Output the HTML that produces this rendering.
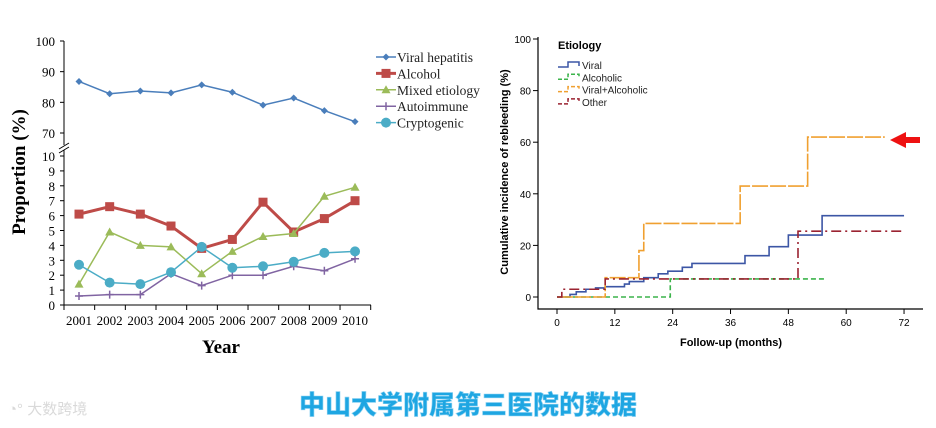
<!DOCTYPE html>
<html><head><meta charset="utf-8"><style>
html,body{margin:0;padding:0;background:#fff;width:936px;height:428px;overflow:hidden}
svg{display:block}
</style></head><body>
<svg id="c" width="936" height="428" xmlns="http://www.w3.org/2000/svg">
<text x="468" y="414" text-anchor="middle" font-family="'Liberation Sans','Noto Sans CJK SC',sans-serif" font-weight="900" font-size="26" fill="#1ea6e2" stroke="#8fd3f2" stroke-width="0.6">中山大学附属第三医院的数据</text>
<g opacity="0.55">
<text x="8" y="414" font-family="'Liberation Sans','Noto Sans CJK SC',sans-serif" font-size="15" fill="#bbb">◔° 大数跨境</text>
</g>
</svg>
<script>
const NS='http://www.w3.org/2000/svg';
const svg=document.getElementById('c');
function el(t,a,p){const e=document.createElementNS(NS,t);for(const k in a)e.setAttribute(k,a[k]);(p||svg).appendChild(e);return e;}
// ---- Left chart data ----
const years=[2001,2002,2003,2004,2005,2006,2007,2008,2009,2010];
const viralHep=[86.8,82.8,83.7,83.1,85.7,83.3,79.1,81.4,77.3,73.7];
const alcohol=[6.1,6.6,6.1,5.3,3.8,4.4,6.9,4.9,5.8,7.0];
const mixed=[1.4,4.9,4.0,3.9,2.1,3.6,4.6,4.8,7.3,7.9];
const autoimm=[0.6,0.7,0.7,2.1,1.3,2.0,2.0,2.6,2.3,3.1];
const crypto=[2.7,1.5,1.4,2.2,3.9,2.5,2.6,2.9,3.5,3.6];
const upperTicks=[70,80,90,100];
const lowerTicks=[0,1,2,3,4,5,6,7,8,9,10];
// ---- Right chart data ----
const kmXTicks=[0,12,24,36,48,60,72];
const kmYTicks=[0,20,40,60,80,100];
const viralT=[0,2.7,4,6,8,10,14,15,18,21,23,26,28,39,44,48,55,72];
const viralV=[0,1,2,3,3.5,4,5,6,7.5,9,10,11.5,13,16,19.5,24,31.5,31.5];
const alcT=[0,23.5,56];
const alcV=[0,7,7];
const vaT=[0,10,17,18,38,52,68];
const vaV=[0,7.5,18,28.5,43,62,62];
const othT=[0,1,10,50,72];
const othV=[0,3,7,25.5,25.5];

const serif="'Liberation Serif',serif", sans="'Liberation Sans',sans-serif";
const xL=i=>79+i*30.67;
const yUp=v=>133-(v-70)*3.067;
const yLo=v=>305-v*14.9;
const yAny=v=>v>=50?yUp(v):yLo(v);
const gL=el('g',{});  
let a=el('path',{d:'M64,41V145 M64,150V305H371',stroke:'#000','stroke-width':1,fill:'none'},gL);
 
el('path',{d:'M59,149 L69,143 M59,153 L69,147',stroke:'#000','stroke-width':1},gL);
upperTicks.forEach(t=>{const y=yUp(t);el('line',{x1:60,x2:64,y1:y,y2:y,stroke:'#000'},gL);const tx=el('text',{x:55,y:y+5,'text-anchor':'end','font-family':serif,'font-size':13},gL);tx.textContent=t;});
lowerTicks.forEach(t=>{const y=yLo(t);el('line',{x1:60,x2:64,y1:y,y2:y,stroke:'#000'},gL);const tx=el('text',{x:55,y:y+5,'text-anchor':'end','font-family':serif,'font-size':13},gL);tx.textContent=t;});
for(let i=0;i<=years.length;i++){const x=64+i*30.67;el('line',{x1:x,x2:x,y1:305,y2:310,stroke:'#000'},gL);}
years.forEach((yr,i)=>{const tx=el('text',{x:xL(i),y:325,'text-anchor':'middle','font-family':serif,'font-size':13},gL);tx.textContent=yr;});
let t1=el('text',{x:221,y:353,'text-anchor':'middle','font-family':serif,'font-size':19,'font-weight':'bold'},gL);t1.textContent='Year';

let t2=el('text',{x:0,y:0,transform:'translate(25,172) rotate(-90)','text-anchor':'middle','font-family':serif,'font-size':19,'font-weight':'bold'},gL);t2.textContent='Proportion (%)';

function marker(type,x,y,c,g){
 if(type==='diamond')return el('path',{d:`M${x},${y-3.5}L${x+3.5},${y}L${x},${y+3.5}L${x-3.5},${y}Z`,fill:c},g);
 if(type==='square')return el('rect',{x:x-4.5,y:y-4.5,width:9,height:9,fill:c},g);
 if(type==='tri')return el('path',{d:`M${x},${y-4.5}L${x+4.5},${y+3.5}L${x-4.5},${y+3.5}Z`,fill:c},g);
 if(type==='plus')return el('path',{d:`M${x-4},${y}H${x+4}M${x},${y-4}V${y+4}`,stroke:c,'stroke-width':1.5},g);
 return el('circle',{cx:x,cy:y,r:5,fill:c},g);
}
const seriesL=[[viralHep,'#4a7ebb','diamond',1.5,'Viral hepatitis','series-viral-hepatitis'],[alcohol,'#be4b48','square',3,'Alcohol','series-alcohol'],[mixed,'#9bbb59','tri',1.5,'Mixed etiology','series-mixed-etiology'],[autoimm,'#8064a2','plus',1.5,'Autoimmune','series-autoimmune'],[crypto,'#4bacc6','circle',1.5,'Cryptogenic','series-cryptogenic']];
seriesL.forEach((s,k)=>{
 const g=el('g',{},gL);
 el('polyline',{points:s[0].map((v,i)=>xL(i)+','+yAny(v)).join(' '),fill:'none',stroke:s[1],'stroke-width':s[3]},g);
 s[0].forEach((v,i)=>{const m=marker(s[2],xL(i),yAny(v),s[1],g);});
 const ly=57+k*16.4;
 const lg=el('g',{},gL);
 el('line',{x1:376,x2:396,y1:ly,y2:ly,stroke:s[1],'stroke-width':s[3]},lg);
 marker(s[2],386,ly,s[1],lg);
 const tx=el('text',{x:397,y:ly+5,'font-family':serif,'font-size':13.5,fill:'#222'},lg);tx.textContent=s[4];
});
const xR=m=>557+m*4.82;
const yR=v=>297-v*2.58;
const gR=el('g',{});
el('path',{d:'M538,37V309H923',stroke:'#000','stroke-width':1.2,fill:'none'},gR);
kmYTicks.forEach(t=>{const y=yR(t);el('line',{x1:533,x2:538,y1:y,y2:y,stroke:'#000'},gR);const tx=el('text',{x:531,y:y+4,'text-anchor':'end','font-family':sans,'font-size':10},gR);tx.textContent=t;});
kmXTicks.forEach(t=>{const x=xR(t);el('line',{x1:x,x2:x,y1:309,y2:314,stroke:'#000'},gR);const tx=el('text',{x:x,y:326,'text-anchor':'middle','font-family':sans,'font-size':10},gR);tx.textContent=t;});
let t3=el('text',{x:731,y:346,'text-anchor':'middle','font-family':sans,'font-size':11,'font-weight':'bold'},gR);t3.textContent='Follow-up (months)';

let t4=el('text',{x:0,y:0,transform:'translate(508,172) rotate(-90)','text-anchor':'middle','font-family':sans,'font-size':11,'font-weight':'bold'},gR);t4.textContent='Cumulative incidence of rebleeding (%)';

function stepPath(T,V){let d='M'+xR(T[0])+','+yR(V[0]);for(let i=1;i<T.length;i++){d+='H'+xR(T[i])+'V'+yR(V[i]);}return d;}
const seriesR=[[viralT,viralV,'#3c56a5','none','Viral','series-viral'],[alcT,alcV,'#3cb44b','5,3','Alcoholic','series-alcoholic'],[vaT,vaV,'#f0a030','16,2','Viral+Alcoholic','series-viral-alcoholic'],[othT,othV,'#9b2331','10,4,2,4','Other','series-other']];
const tl=el('text',{x:558,y:49,'font-family':sans,'font-size':11,'font-weight':'bold'},gR);tl.textContent='Etiology';

seriesR.forEach((s,k)=>{
 const p=el('path',{d:stepPath(s[0],s[1]),fill:'none',stroke:s[2],'stroke-width':1.6,'stroke-dasharray':s[3]},gR);
 
 const ly=65+k*12.3;
 const lg=el('g',{},gR);
 el('path',{d:`M558,${ly+2}H568V${ly-3}H579V${ly+1}`,fill:'none',stroke:s[2],'stroke-width':1.5,'stroke-dasharray':s[3]==='none'?'none':'4,2'},lg);
 const tx=el('text',{x:582,y:ly+4,'font-family':sans,'font-size':10,fill:'#222'},lg);tx.textContent=s[4];
});
const arr=el('path',{d:'M890,140L906,132V137H920V143H906V148Z',fill:'#ee1111'},gR);

</script>
</body></html>
